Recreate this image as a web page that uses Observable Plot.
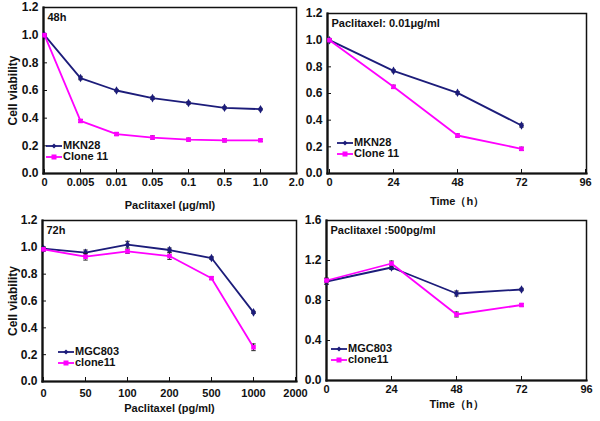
<!DOCTYPE html>
<html><head><meta charset="utf-8">
<script src="https://cdn.jsdelivr.net/npm/d3@7"></script>
<script src="https://cdn.jsdelivr.net/npm/@observablehq/plot@0.6"></script>
<style>
body{margin:0;background:#fff;}
#wrap{position:relative;width:600px;height:421px;overflow:hidden;font-family:"Liberation Sans",Arial,sans-serif;}
.panel{position:absolute;}
.panel svg{overflow:visible;}
.legend{position:absolute;font:bold 11px "Liberation Sans",Arial,sans-serif;color:#111;line-height:11px;}
.legend div{display:flex;align-items:center;height:11px;}
.legend svg{margin-right:1px;}
</style></head>
<body><div id="wrap"></div>
<script>
// ---- data ----
const doseLabels48 = ["0","0.005","0.01","0.05","0.1","0.5","1.0","2.0"];
const doses48 = ["0","0.005","0.01","0.05","0.1","0.5","1.0"];
const mkn28_48h = [1.0,0.69,0.60,0.545,0.51,0.475,0.465];
const mkn28_48h_err = [0.01,0.012,0.008,0.01,0.01,0.008,0.006];
const clone11_48h = [1.0,0.38,0.285,0.26,0.245,0.24,0.24];
const clone11_48h_err = [0.01,0.01,0.01,0.012,0.01,0.012,0.008];

const timeLabels = ["0","24","48","72","96"];
const times = ["0","24","48","72"];
const mkn28_time = [1.0,0.77,0.605,0.36];
const mkn28_time_err = [0.01,0.008,0.01,0.012];
const clone11_time = [1.0,0.65,0.285,0.185];
const clone11_time_err = [0.01,0.012,0.012,0.012];

const doseLabels72 = ["0","50","100","200","500","1000","2000"];
const doses72 = ["0","50","100","200","500","1000"];
const mgc803_72h = [0.99,0.96,1.02,0.98,0.92,0.515];
const mgc803_72h_err = [0.012,0.02,0.025,0.015,0.01,0.008];
const clone11_72h = [0.985,0.93,0.97,0.935,0.77,0.255];
const clone11_72h_err = [0.015,0.025,0.015,0.025,0.01,0.025];

const mgc803_time = [0.99,1.13,0.87,0.91];
const mgc803_time_err = [0.03,0.02,0.025,0.012];
const clone11_time4 = [1.0,1.17,0.66,0.755];
const clone11_time4_err = [0.025,0.025,0.025,0.012];

const NAVY = "#1c1c7a", MAG = "#ff00ff";
const capSymbol = {draw(ctx){ ctx.moveTo(-2.2,0); ctx.lineTo(2.2,0); }};

function rows(xs, ys, es, series){ return xs.map((x,i)=>({x, y:ys[i], e:es[i], series})); }

function panel(o){
  const data = [...rows(o.xs, o.a, o.ae, "a"), ...rows(o.xs, o.b, o.be, "b")];
  const color = s => s==="a" ? NAVY : MAG;
  const marks = [];
  for (const s of ["a","b"]) {
    const d = data.filter(r=>r.series===s);
    marks.push(
      Plot.ruleX(d, {x:"x", y1:r=>r.y-r.e, y2:r=>r.y+r.e, stroke:"#222", strokeWidth:1}),
      Plot.dot(d, {x:"x", y:r=>r.y-r.e, symbol:capSymbol, stroke:"#222", strokeWidth:1}),
      Plot.dot(d, {x:"x", y:r=>r.y+r.e, symbol:capSymbol, stroke:"#222", strokeWidth:1}),
      Plot.line(d, {x:"x", y:"y", stroke:color(s), strokeWidth:1.8}),
      Plot.dot(d, {x:"x", y:"y", symbol: s==="a" ? "diamond" : "square", r: 2.6, fill:color(s), stroke:"none"})
    );
  }
  return Plot.plot({
    width:o.width, height:o.height,
    marginLeft:o.ml, marginRight:o.mr, marginTop:o.mt, marginBottom:o.mb,
    style:{fontFamily:'"Liberation Sans",Arial,sans-serif', fontSize:"11px", fontWeight:"bold", color:"#111", background:"transparent", overflow:"visible"},
    x:{type:"point", domain:o.xdomain, padding:0},
    y:{domain:o.ydomain},
    marks:[
      Plot.axisY({ticks:o.yticks, tickFormat:d3.format(".1f"), tickSize:-4, tickPadding:9, stroke:"#111",
        label:o.ylabel ?? null, labelAnchor:"center", labelArrow:"none", labelOffset:o.ylo ?? 30, fontSize:12}),
      Plot.axisX({tickSize:-4, tickPadding:o.xtp ?? 9, stroke:"#111",
        label:o.xlabel, labelAnchor:"center", labelArrow:"none", labelOffset:o.xlo, fontSize:11}),
      Plot.frame({stroke:"#111", strokeWidth:1.5}),
      Plot.frame({anchor:"left", stroke:"#111", strokeWidth:2.2}),
      Plot.frame({anchor:"bottom", stroke:"#111", strokeWidth:2.2}),
      ...marks,
      Plot.text([o.title], {frameAnchor:"top-left", dx:4, dy:o.tdy ?? 6, textAnchor:"start", fontSize:11, fontWeight:"bold", fill:"#111"})
    ]
  });
}

const wrap = document.getElementById("wrap");
function place(svg, left, top){
  const d = document.createElement("div"); d.className="panel";
  d.style.left=left+"px"; d.style.top=top+"px"; d.appendChild(svg); wrap.appendChild(d);
}
function legend(left, top, names){
  const L = document.createElement("div"); L.className="legend";
  L.style.left=left+"px"; L.style.top=top+"px";
  names.forEach((n,i)=>{
    const c = i===0 ? NAVY : MAG;
    const row = document.createElement("div");
    const mk = i===0
      ? `<path d="M8,0.5 L10.5,3 L8,5.5 L5.5,3Z" fill="${c}"/>`
      : `<rect x="5.5" y="0.5" width="5" height="5" fill="${c}"/>`;
    row.innerHTML = `<svg width="16" height="6"><line x1="0" y1="3" x2="16" y2="3" stroke="${c}" stroke-width="1.8"/>${mk}</svg><span>${n}</span>`;
    L.appendChild(row);
  });
  wrap.appendChild(L);
}

// right-hand panels first so the left panels' last tick labels draw on top
place(panel({width:300, height:212, ml:27, mr:14, mt:13, mb:39,
  xs:times, xdomain:timeLabels, a:mkn28_time, ae:mkn28_time_err, b:clone11_time, be:clone11_time_err,
  ydomain:[0,1.2], yticks:d3.range(0,1.21,0.2),
  xlabel:"Time（h）", xlo:31, title:"Paclitaxel: 0.01μg/ml"}), 300, 0);

place(panel({width:300, height:211, ml:26, mr:14, mt:10, mb:41,
  xs:times, xdomain:timeLabels, a:mgc803_time, ae:mgc803_time_err, b:clone11_time4, be:clone11_time4_err,
  ydomain:[0,1.6], yticks:d3.range(0,1.61,0.4),
  xlabel:"Time（h）", xlo:27, title:"Paclitaxel :500pg/ml"}), 300, 210);

place(panel({width:300, height:212, ml:43, mr:4, mt:7, mb:39,
  xs:doses48, xdomain:doseLabels48, a:mkn28_48h, ae:mkn28_48h_err, b:clone11_48h, be:clone11_48h_err,
  ydomain:[0,1.2], yticks:d3.range(0,1.21,0.2), ylabel:"Cell viability", ylo:35,
  xlabel:"Paclitaxel (μg/ml)", xlo:35, title:"48h"}), 0, 0);

place(panel({width:300, height:211, ml:42, mr:4, mt:10, mb:40,
  xs:doses72, xdomain:doseLabels72, a:mgc803_72h, ae:mgc803_72h_err, b:clone11_72h, be:clone11_72h_err,
  ydomain:[0,1.2], yticks:d3.range(0,1.21,0.2), ylabel:"Cell viability", ylo:34,
  xlabel:"Paclitaxel (pg/ml)", xlo:30, xtp:12, title:"72h"}), 0, 210);

legend(46, 140, ["MKN28","Clone 11"]);
legend(337, 137, ["MKN28","Clone 11"]);
legend(58, 346, ["MGC803","clone11"]);
legend(331, 343, ["MGC803","clone11"]);
</script></body></html>
